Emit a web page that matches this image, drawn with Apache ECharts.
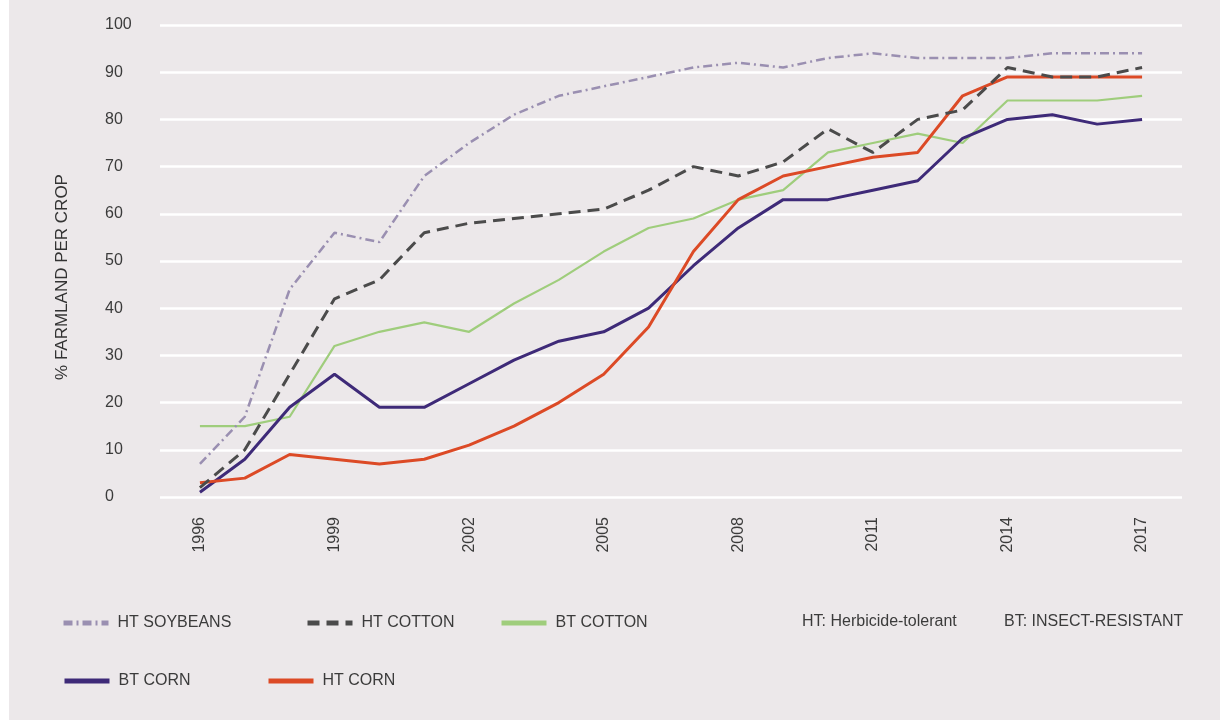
<!DOCTYPE html>
<html>
<head>
<meta charset="utf-8">
<title>GM crop adoption</title>
<script src="https://cdn.jsdelivr.net/npm/echarts@6/dist/echarts.min.js"></script>
<style>
  html, body { margin: 0; padding: 0; background: #ffffff; }
  #chart { width: 1226px; height: 720px; }
</style>
</head>
<body>
<div id="chart"></div>
<script>
// Years and adoption share (% of planted acres) per genetically engineered crop
const years = [1996, 1997, 1998, 1999, 2000, 2001, 2002, 2003, 2004, 2005, 2006,
               2007, 2008, 2009, 2010, 2011, 2012, 2013, 2014, 2015, 2016, 2017];
const yearTicks = [1996, 1999, 2002, 2005, 2008, 2011, 2014, 2017];

const htSoybeans = [7, 17, 44, 56, 54, 68, 75, 81, 85, 87, 89, 91, 92, 91, 93, 94, 93, 93, 93, 94, 94, 94];
const htCotton   = [2, 10, 26, 42, 46, 56, 58, 59, 60, 61, 65, 70, 68, 71, 78, 73, 80, 82, 91, 89, 89, 91];
const btCotton   = [15, 15, 17, 32, 35, 37, 35, 41, 46, 52, 57, 59, 63, 65, 73, 75, 77, 75, 84, 84, 84, 85];
const btCorn     = [1, 8, 19, 26, 19, 19, 24, 29, 33, 35, 40, 49, 57, 63, 63, 65, 67, 76, 80, 81, 79, 80];
const htCorn     = [3, 4, 9, 8, 7, 8, 11, 15, 20, 26, 36, 52, 63, 68, 70, 72, 73, 85, 89, 89, 89, 89];

const FONT = '"Liberation Sans", Arial, sans-serif';
const TEXT = '#3b3b3b';

const pairs = arr => years.map((y, i) => [y, arr[i]]);

const chart = echarts.init(document.getElementById('chart'), null, { renderer: 'canvas' });

// One legend block per entry so each can sit at its own spot
function legendAt(name, left, top) {
  return {
    data: [name],
    left: left,
    top: top,
    padding: 0,
    itemWidth: 45,
    itemHeight: 14,
    selectedMode: false,
    itemStyle: { opacity: 0 },
    lineStyle: { width: 5 },
    textStyle: { fontFamily: FONT, fontSize: 16, color: TEXT, padding: [0, 0, 0, 4] }
  };
}

const option = {
  backgroundColor: '#ffffff',
  animation: false,
  textStyle: { fontFamily: FONT },
  grid: { left: 160, right: 44, top: 25, bottom: 223 },
  graphic: [
    { type: 'rect', z: -10, shape: { x: 9, y: 0, width: 1211, height: 720 }, style: { fill: '#ece8ea' } },
    {
      type: 'text', x: 62, y: 277, rotation: Math.PI / 2,
      style: { text: '% FARMLAND PER CROP', fontFamily: FONT, fontSize: 17, fill: '#333333',
               align: 'center', verticalAlign: 'middle' }
    },
    {
      type: 'text', x: 802, y: 622,
      style: { text: 'HT: Herbicide-tolerant', fontFamily: FONT, fontSize: 16, fill: TEXT, verticalAlign: 'middle' }
    },
    {
      type: 'text', x: 1004, y: 622,
      style: { text: 'BT: INSECT-RESISTANT', fontFamily: FONT, fontSize: 16, fill: TEXT, verticalAlign: 'middle' }
    }
  ],
  legend: [
    legendAt('HT SOYBEANS', 61, 615),
    legendAt('HT COTTON', 305, 615),
    legendAt('BT COTTON', 499, 615),
    legendAt('BT CORN', 62, 673),
    legendAt('HT CORN', 266, 673)
  ],
  xAxis: {
    type: 'value',
    min: 1995.11,
    max: 2017.89,
    axisLine: { show: false },
    axisTick: { show: false },
    splitLine: { show: false },
    axisLabel: {
      customValues: yearTicks,
      rotate: 90,
      margin: 20,
      fontFamily: FONT,
      fontSize: 16,
      color: TEXT,
      formatter: v => String(v)
    }
  },
  yAxis: {
    type: 'value',
    min: 0,
    max: 100,
    interval: 10,
    axisLine: { show: false },
    axisTick: { show: false },
    splitLine: { lineStyle: { color: '#ffffff', width: 2.5 } },
    axisLabel: {
      align: 'left',
      margin: 55,
      fontFamily: FONT,
      fontSize: 16,
      color: TEXT,
      padding: [0, 0, 9, 0]
    }
  },
  series: [
    {
      name: 'BT COTTON', type: 'line', symbol: 'none', data: pairs(btCotton),
      lineStyle: { color: '#9fcd7c', width: 2.2 }, itemStyle: { color: '#9fcd7c' }
    },
    {
      name: 'BT CORN', type: 'line', symbol: 'none', data: pairs(btCorn),
      lineStyle: { color: '#3e2a78', width: 3 }, itemStyle: { color: '#3e2a78' }
    },
    {
      name: 'HT CORN', type: 'line', symbol: 'none', data: pairs(htCorn),
      lineStyle: { color: '#dc4a26', width: 3 }, itemStyle: { color: '#dc4a26' }
    },
    {
      name: 'HT COTTON', type: 'line', symbol: 'none', data: pairs(htCotton),
      lineStyle: { color: '#4b4b4b', width: 3, type: [12, 7] }, itemStyle: { color: '#4b4b4b' }
    },
    {
      name: 'HT SOYBEANS', type: 'line', symbol: 'none', data: pairs(htSoybeans),
      lineStyle: { color: '#9a8fb1', width: 2.5, type: [9, 4, 2, 4] }, itemStyle: { color: '#9a8fb1' }
    }
  ]
};

chart.setOption(option);
</script>
</body>
</html>
